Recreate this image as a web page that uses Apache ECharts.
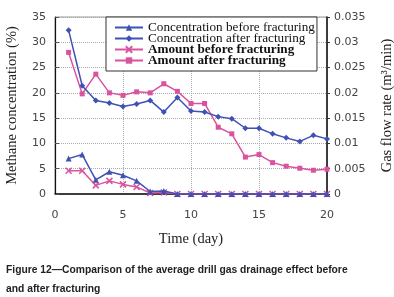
<!DOCTYPE html>
<html><head><meta charset="utf-8">
<script src="https://cdn.jsdelivr.net/npm/echarts@6/dist/echarts.min.js"></script>
<style>html,body{margin:0;padding:0;background:#fff}#c{width:394px;height:297px}</style>
</head><body><div id="c"></div>
<script>
const days = [1,2,3,4,5,6,7,8,9,10,11,12,13,14,15,16,17,18,19,20];
const concBefore = [7.0,7.8,2.8,4.4,3.7,2.6,0.5,0.6,0,0,0,0,0,0,0,0,0,0,0,0];
const concAfter = [32.4,21.4,18.5,18.0,17.3,17.8,18.5,16.2,19.1,16.4,16.2,15.3,14.9,13.0,13.0,11.9,11.1,10.4,11.6,10.9];
const amountBefore = [0.0046,0.0046,0.0017,0.0026,0.0019,0.0014,0.0002,0.0003,0,0,0,0,0,0,0,0,0,0,0,0];
const amountAfter = [0.028,0.0198,0.0237,0.0200,0.0195,0.0202,0.0200,0.0218,0.0203,0.0179,0.0179,0.0132,0.0119,0.0073,0.0078,0.0062,0.0055,0.0051,0.0047,0.0049];
const seriesNames = ['Concentration before fracturing','Concentration after fracturing','Amount before fracturing','Amount after fracturing'];
const leftTicks = {min:0,max:35,interval:5};
const rightTicks = {min:0,max:0.035,interval:0.005};
const xTicks = {min:0,max:20,interval:5};

const blue = '#3f51b5', pink = '#d9539e';
const crossPath = 'path://M0,0L10,10M10,0L0,10';
const pair = arr => days.map((d,i)=>[d,arr[i]]);
const serif = 'Liberation Serif';
const sans = 'DejaVu Sans';

const chart = echarts.init(document.getElementById('c'), null, {renderer:'canvas'});
chart.setOption({
  animation:false,
  backgroundColor:'#fff',
  grid:{left:55,right:67,top:17,bottom:103,show:true,borderColor:'#999',borderWidth:1,containLabel:false,outerBoundsMode:'none'},
  legend:{
    orient:'vertical', left:106, top:17, itemWidth:28, itemHeight:8, itemGap:-2,
    backgroundColor:'#fff', borderColor:'#333', borderWidth:1, padding:[4,2,4,8],
    textStyle:{fontFamily:serif,fontSize:13.2,color:'#111'},
    data:[
      {name:seriesNames[0]},
      {name:seriesNames[1]},
      {name:seriesNames[2],textStyle:{fontWeight:'bold'}},
      {name:seriesNames[3],textStyle:{fontWeight:'bold'}}
    ]
  },
  xAxis:{
    type:'value', min:xTicks.min, max:xTicks.max, interval:xTicks.interval,
    name:'Time (day)', nameLocation:'middle', nameGap:38,
    nameTextStyle:{fontFamily:serif,fontSize:14.5,color:'#222'},
    axisLine:{lineStyle:{color:'#111',width:1.5}},
    axisTick:{show:false},
    axisLabel:{margin:16,fontFamily:sans,fontSize:11,color:'#444'},
    splitLine:{show:true,lineStyle:{color:'#aaa',type:'dotted'}}
  },
  yAxis:[
    {type:'value', min:leftTicks.min, max:leftTicks.max, interval:leftTicks.interval,
     name:'Methane concentration (%)', nameLocation:'middle', nameGap:35, nameRotate:90,
     nameTextStyle:{fontFamily:serif,fontSize:14.5,color:'#222'},
     axisLine:{show:true,lineStyle:{color:'#111',width:1.2}},
     axisTick:{show:true,inside:true,length:4,lineStyle:{color:'#555'}},
     axisLabel:{margin:9,fontFamily:sans,fontSize:11,color:'#444'},
     splitLine:{show:true,lineStyle:{color:'#aaa',type:'dotted'}}},
    {type:'value', min:rightTicks.min, max:rightTicks.max, interval:rightTicks.interval, position:'right',
     name:'Gas flow rate (m³/min)', nameLocation:'middle', nameGap:53, nameRotate:90,
     nameTextStyle:{fontFamily:serif,fontSize:14.5,color:'#222'},
     axisLine:{show:true,lineStyle:{color:'#111',width:1.5}},
     axisTick:{show:true,inside:false,length:3,lineStyle:{color:'#333'}},
     axisLabel:{margin:7,fontFamily:sans,fontSize:11,color:'#444'},
     splitLine:{show:false}}
  ],
  series:[
    {name:seriesNames[0],type:'line',yAxisIndex:0,data:pair(concBefore),symbol:'triangle',symbolSize:6,
     lineStyle:{color:blue,width:1.5},itemStyle:{color:blue},z:3},
    {name:seriesNames[1],type:'line',yAxisIndex:0,data:pair(concAfter),symbol:'diamond',symbolSize:6,
     lineStyle:{color:blue,width:1.5},itemStyle:{color:blue},z:3},
    {name:seriesNames[2],type:'line',yAxisIndex:1,data:pair(amountBefore),symbol:crossPath,symbolSize:6,
     lineStyle:{color:pink,width:1.5},itemStyle:{color:pink,borderColor:pink,borderWidth:1.5},z:2},
    {name:seriesNames[3],type:'line',yAxisIndex:1,data:pair(amountAfter),symbol:'rect',symbolSize:5,
     lineStyle:{color:pink,width:1.5},itemStyle:{color:pink},z:2}
  ],
  graphic:[
    {type:'text',left:6,top:261,style:{text:'Figure 12\u2014Comparison of the average drill gas drainage effect before\nand after fracturing',
      font:'bold 10.3px "Liberation Sans", Arial, sans-serif',fill:'#222',lineHeight:19}}
  ]
});
</script></body></html>
